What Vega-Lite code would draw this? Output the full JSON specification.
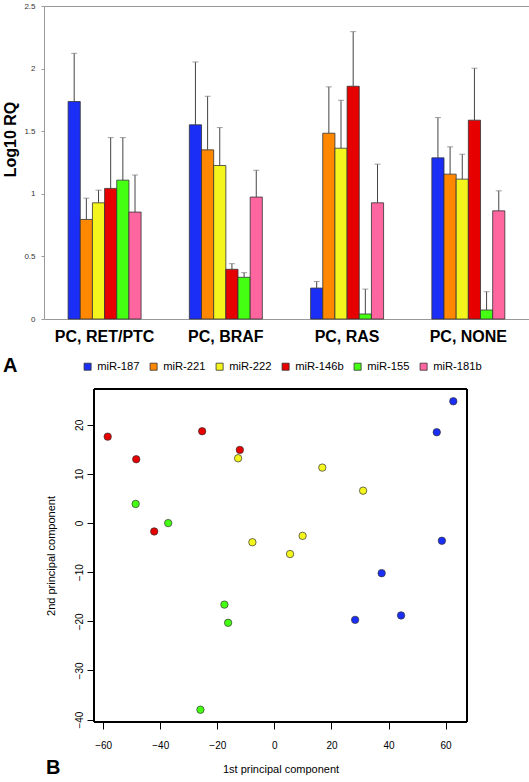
{
  "$schema": "https://vega.github.io/schema/vega-lite/v6.json",
  "background": "white",
  "padding": {"left": 2, "top": 1, "right": 0, "bottom": 0},
  "spacing": 11,
  "config": {"font": "Liberation Sans"},
  "resolve": {"scale": {"color": "independent"}, "legend": {"color": "independent"}},
  "vconcat": [
    {
      "width": 500,
      "height": 313,
      "view": {"stroke": "#999999", "strokeWidth": 1},
      "data": {"values": [
        {"g": "PC, RET/PTC", "m": "miR-187", "v": 1.737, "u": 2.122},
        {"g": "PC, RET/PTC", "m": "miR-221", "v": 0.795, "u": 0.965},
        {"g": "PC, RET/PTC", "m": "miR-222", "v": 0.928, "u": 1.029},
        {"g": "PC, RET/PTC", "m": "miR-146b", "v": 1.043, "u": 1.449},
        {"g": "PC, RET/PTC", "m": "miR-155", "v": 1.109, "u": 1.449},
        {"g": "PC, RET/PTC", "m": "miR-181b", "v": 0.854, "u": 1.15},
        {"g": "PC, BRAF", "m": "miR-187", "v": 1.551, "u": 2.053},
        {"g": "PC, BRAF", "m": "miR-221", "v": 1.351, "u": 1.779},
        {"g": "PC, BRAF", "m": "miR-222", "v": 1.226, "u": 1.529},
        {"g": "PC, BRAF", "m": "miR-146b", "v": 0.397, "u": 0.442},
        {"g": "PC, BRAF", "m": "miR-155", "v": 0.333, "u": 0.37},
        {"g": "PC, BRAF", "m": "miR-181b", "v": 0.974, "u": 1.188},
        {"g": "PC, RAS", "m": "miR-187", "v": 0.247, "u": 0.3},
        {"g": "PC, RAS", "m": "miR-221", "v": 1.484, "u": 1.854},
        {"g": "PC, RAS", "m": "miR-222", "v": 1.364, "u": 1.747},
        {"g": "PC, RAS", "m": "miR-146b", "v": 1.859, "u": 2.295},
        {"g": "PC, RAS", "m": "miR-155", "v": 0.04, "u": 0.239},
        {"g": "PC, RAS", "m": "miR-181b", "v": 0.928, "u": 1.237},
        {"g": "PC, NONE", "m": "miR-187", "v": 1.287, "u": 1.609},
        {"g": "PC, NONE", "m": "miR-221", "v": 1.157, "u": 1.375},
        {"g": "PC, NONE", "m": "miR-222", "v": 1.117, "u": 1.316},
        {"g": "PC, NONE", "m": "miR-146b", "v": 1.588, "u": 2.003},
        {"g": "PC, NONE", "m": "miR-155", "v": 0.072, "u": 0.218},
        {"g": "PC, NONE", "m": "miR-181b", "v": 0.864, "u": 1.024}
      ]},
      "encoding": {
        "x": {
          "field": "g", "type": "nominal",
          "sort": ["PC, RET/PTC", "PC, BRAF", "PC, RAS", "PC, NONE"],
          "scale": {"paddingInner": 0.398, "paddingOuter": 0.2609, "align": 0.381},
          "axis": {"title": null, "ticks": false, "domain": false, "labelAngle": 0, "labelFontSize": 16, "labelFontWeight": "bold", "labelColor": "black", "labelPadding": 9}
        },
        "xOffset": {
          "field": "m", "type": "nominal",
          "sort": ["miR-187", "miR-221", "miR-222", "miR-146b", "miR-155", "miR-181b"],
          "scale": {"paddingInner": 0, "paddingOuter": 0}
        }
      },
      "layer": [
        {
          "mark": {"type": "rule", "color": "#444444", "strokeWidth": 1},
          "encoding": {
            "y": {"field": "v", "type": "quantitative", "title": "Log10 RQ"},
            "y2": {"field": "u"}
          }
        },
        {
          "mark": {"type": "bar", "stroke": "#333333", "strokeWidth": 0.8},
          "encoding": {
            "y": {
              "field": "v", "type": "quantitative", "title": "Log10 RQ",
              "scale": {"domain": [0, 2.5], "nice": false},
              "axis": {"values": [0, 0.5, 1, 1.5, 2, 2.5], "format": "~g", "grid": false, "domain": false, "tickSize": 3, "tickColor": "#999999", "labelFontSize": 8, "labelColor": "#333333", "labelPadding": 6, "titleFontSize": 16, "titleFontWeight": "bold", "titleColor": "black", "titlePadding": 5, "titleY": 133}
            },
            "color": {
              "field": "m", "type": "nominal",
              "scale": {"domain": ["miR-187", "miR-221", "miR-222", "miR-146b", "miR-155", "miR-181b"], "range": ["#1a2ef5", "#ff8800", "#f5f51e", "#e60000", "#44ff11", "#ff66a0"]},
              "legend": {"orient": "none", "legendX": -41, "legendY": 355, "direction": "horizontal", "title": "A", "titleOrient": "left", "titleAnchor": "end", "titleBaseline": "alphabetic", "titleFontSize": 20, "titleFontWeight": "bold", "titleColor": "black", "titlePadding": 64, "symbolType": "square", "symbolSize": 50, "symbolStrokeColor": "#333333", "symbolStrokeWidth": 0.8, "symbolOpacity": 1, "labelFontSize": 11.2, "labelColor": "black", "labelOffset": 4, "columnPadding": 8}
            }
          }
        },
        {
          "mark": {"type": "tick", "color": "#777777", "size": 6, "thickness": 1},
          "encoding": {
            "y": {"field": "u", "type": "quantitative", "title": "Log10 RQ"}
          }
        }
      ]
    },
    {
      "width": 423,
      "height": 333,
      "view": {"stroke": null},
      "title": {"text": "B", "orient": "bottom", "anchor": "start", "frame": "group", "dx": 2, "offset": -16, "fontSize": 20, "fontWeight": "bold", "color": "black"},
      "data": {"values": [
        {"mir": "miR-146b", "pc1": -58.4, "pc2": 17.6},
        {"mir": "miR-146b", "pc1": -48.4, "pc2": 13.0},
        {"mir": "miR-146b", "pc1": -25.3, "pc2": 18.7},
        {"mir": "miR-146b", "pc1": -12.1, "pc2": 14.9},
        {"mir": "miR-146b", "pc1": -42.1, "pc2": -1.7},
        {"mir": "miR-155", "pc1": -48.6, "pc2": 3.9},
        {"mir": "miR-155", "pc1": -37.2, "pc2": 0.0},
        {"mir": "miR-155", "pc1": -17.5, "pc2": -16.6},
        {"mir": "miR-155", "pc1": -16.2, "pc2": -20.3},
        {"mir": "miR-155", "pc1": -25.9, "pc2": -38.0},
        {"mir": "miR-222", "pc1": -12.7, "pc2": 13.2},
        {"mir": "miR-222", "pc1": -7.7, "pc2": -3.9},
        {"mir": "miR-222", "pc1": 16.8, "pc2": 11.3},
        {"mir": "miR-222", "pc1": 31.1, "pc2": 6.6},
        {"mir": "miR-222", "pc1": 9.9, "pc2": -2.6},
        {"mir": "miR-222", "pc1": 5.5, "pc2": -6.3},
        {"mir": "miR-187", "pc1": 62.7, "pc2": 24.8},
        {"mir": "miR-187", "pc1": 56.9, "pc2": 18.5},
        {"mir": "miR-187", "pc1": 58.7, "pc2": -3.6},
        {"mir": "miR-187", "pc1": 37.6, "pc2": -10.2},
        {"mir": "miR-187", "pc1": 44.4, "pc2": -18.8},
        {"mir": "miR-187", "pc1": 28.3, "pc2": -19.7}
      ]},
      "encoding": {
        "x": {
          "field": "pc1", "type": "quantitative", "title": "1st principal component",
          "scale": {"domain": [-63.2, 67.5], "range": [50, 423], "nice": false, "zero": false},
          "axis": {"values": [-60, -40, -20, 0, 20, 40, 60], "grid": false, "domain": false, "tickSize": 7, "tickColor": "black", "labelFontSize": 10, "labelColor": "black", "labelPadding": 11, "titleFontSize": 11, "titleFontWeight": "normal", "titleColor": "black", "titlePadding": 13}
        },
        "y": {
          "field": "pc2", "type": "quantitative", "title": "2nd principal component",
          "scale": {"domain": [-40.5, 27.3], "nice": false, "zero": false},
          "axis": {"offset": -50, "values": [-40, -30, -20, -10, 0, 10, 20], "grid": false, "domain": false, "tickSize": 7, "tickColor": "black", "labelAngle": -90, "labelAlign": "center", "labelBaseline": "bottom", "labelFontSize": 10, "labelColor": "black", "labelPadding": 3, "titleFontSize": 11, "titleFontWeight": "normal", "titleColor": "black", "titlePadding": 18}
        }
      },
      "layer": [
        {
          "mark": {"type": "rect", "filled": false, "stroke": "black", "strokeWidth": 1},
          "encoding": {
            "x": {"datum": -63.2, "type": "quantitative"},
            "x2": {"datum": 67.5},
            "y": {"datum": -40.5, "type": "quantitative"},
            "y2": {"datum": 27.3}
          }
        },
        {
          "mark": {"type": "circle", "size": 55, "opacity": 1, "stroke": "#333333", "strokeWidth": 0.7},
          "encoding": {
            "color": {
              "field": "mir", "type": "nominal",
              "scale": {"domain": ["miR-187", "miR-221", "miR-222", "miR-146b", "miR-155", "miR-181b"], "range": ["#1a2ef5", "#ff8800", "#f5f51e", "#e60000", "#44ff11", "#ff66a0"]},
              "legend": null
            }
          }
        }
      ]
    }
  ]
}
